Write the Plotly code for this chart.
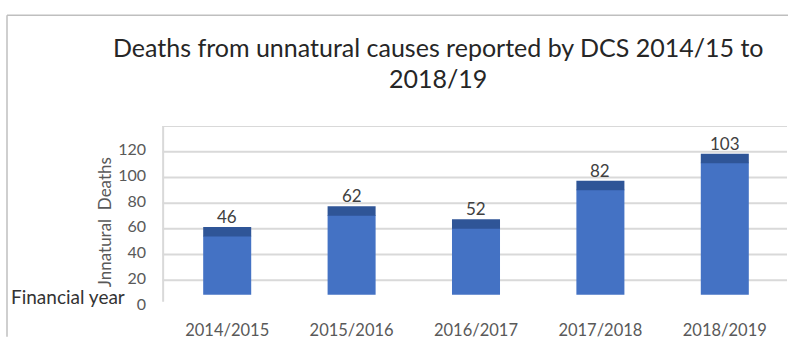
import plotly.graph_objects as go

# Data
years = ["2014/2015", "2015/2016", "2016/2017", "2017/2018", "2018/2019"]
deaths = [46, 62, 52, 82, 103]
tick_values = [0, 20, 40, 60, 80, 100, 120]
tick_labels = ["0", "20", "40", "60", "80", "100", "120"]

W, H = 792, 345
M_L, M_R, M_T, M_B = 165, 5, 126, 32
PLOT_H = H - M_T - M_B
Y_MAX = 140
BAR_BASE = 8.7      # bars float slightly above the axis floor
CAP = 6.8           # darker band on top of each bar
CAP_OVERLAP = 0.6   # tuck the band a hair into the bar to avoid a seam

BLUE = "#4472C4"
DARK = "#2F5597"
GRID = "#D9D9D9"
FONT = "Lato"


def py(pix):
    """pixel row -> paper y"""
    return (H - M_B - pix) / PLOT_H


def px(pix):
    """pixel column -> paper x"""
    return (pix - M_L) / (W - M_L - M_R)


fig = go.Figure()

fig.add_bar(
    x=years, y=deaths, base=[BAR_BASE] * len(deaths),
    marker=dict(color=BLUE, line=dict(width=0)),
    width=0.386, hoverinfo="x+y",
)
fig.add_bar(
    x=years, y=[CAP + CAP_OVERLAP] * len(deaths),
    base=[BAR_BASE + d - CAP_OVERLAP for d in deaths],
    marker=dict(color=DARK, line=dict(width=0)),
    width=0.386, hoverinfo="skip",
)

# value labels above each bar
for yr, d in zip(years, deaths):
    fig.add_annotation(
        x=yr, y=BAR_BASE + d + CAP, text=str(d), showarrow=False,
        yanchor="bottom", yshift=-2,
        font=dict(family=FONT, size=17, color="#404040"),
    )

shapes = []
# horizontal gridlines
for v in [20, 40, 60, 80, 100, 120, 140]:
    shapes.append(dict(type="line", xref="paper", yref="y", x0=-0.004, x1=1.0,
                       y0=v, y1=v, line=dict(color=GRID, width=2), layer="below"))
# left axis rule
shapes.append(dict(type="line", xref="paper", yref="y", x0=-0.003, x1=-0.003,
                   y0=3.3, y1=140, line=dict(color=GRID, width=2), layer="below"))
# outer frame (top and left edges)
shapes.append(dict(type="line", xref="paper", yref="paper", x0=px(7), x1=px(788),
                   y0=py(11), y1=py(11), line=dict(color="#BFBFBF", width=1.5)))
shapes.append(dict(type="line", xref="paper", yref="paper", x0=px(7), x1=px(7),
                   y0=py(11), y1=py(345), line=dict(color="#BFBFBF", width=1.5)))

# title lines
fig.add_annotation(x=px(438), y=py(44), xref="paper", yref="paper", showarrow=False,
                   text="Deaths from unnatural causes reported by DCS 2014/15 to",
                   font=dict(family=FONT, size=25, color="#262626"), xanchor="center", yanchor="middle")
fig.add_annotation(x=px(438), y=py(76), xref="paper", yref="paper", showarrow=False,
                   text="2018/19",
                   font=dict(family=FONT, size=25, color="#262626"), xanchor="center", yanchor="middle")

# axis titles
fig.add_annotation(x=px(104), y=py(226), xref="paper", yref="paper", showarrow=False,
                   text="Jnnatural  Deaths", textangle=-90,
                   font=dict(family=FONT, size=17, color="#595959"), xanchor="center", yanchor="middle")
fig.add_annotation(x=px(127), y=py(303), xref="paper", yref="paper", showarrow=False,
                   text="Financial year",
                   font=dict(family=FONT, size=19, color="#333333"), xanchor="right", yanchor="middle")

fig.update_layout(
    width=W, height=H,
    margin=dict(l=M_L, r=M_R, t=M_T, b=M_B, pad=0),
    paper_bgcolor="white", plot_bgcolor="white",
    barmode="overlay", bargap=0.614, showlegend=False,
    shapes=shapes,
    font=dict(family=FONT),
)
fig.update_xaxes(
    showgrid=False, showline=False, zeroline=False, ticks="",
    tickfont=dict(family=FONT, size=16.5, color="#595959"),
    ticklabelstandoff=12,
)
fig.update_yaxes(
    range=[0, Y_MAX], tickvals=tick_values, ticktext=tick_labels,
    showgrid=False, showline=False, zeroline=False, ticks="",
    tickfont=dict(family=FONT, size=16, color="#595959"),
    ticklabelstandoff=18, ticklabelshift=-2,
)

fig.write_html("out.html")
